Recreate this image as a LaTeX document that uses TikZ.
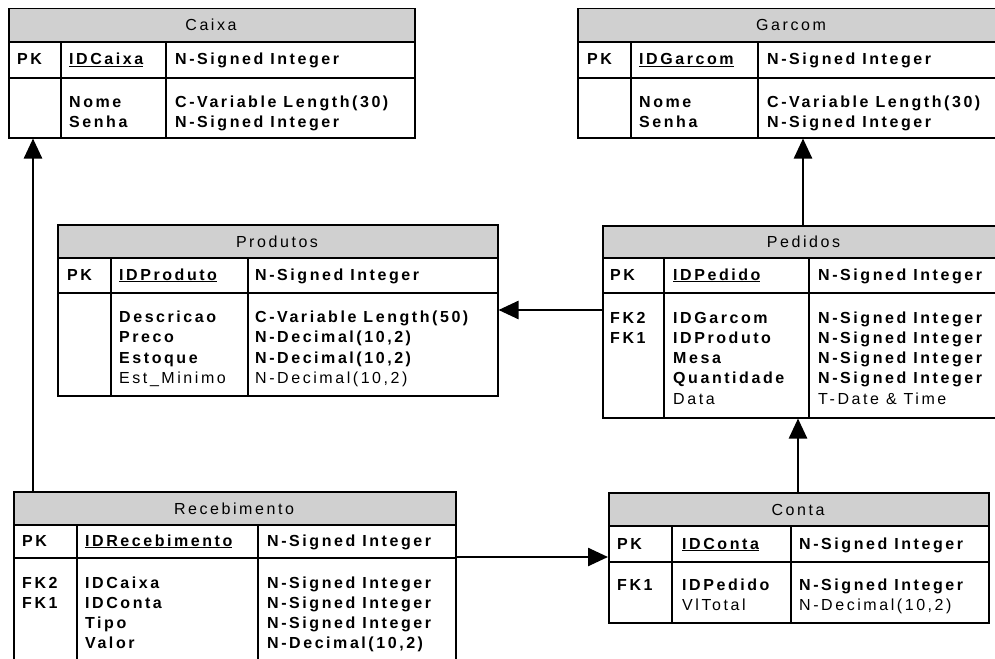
\documentclass[tikz,border=0pt]{standalone}
\usepackage{fontspec}
\setmainfont{Liberation Sans}[LetterSpace=16]
\usetikzlibrary{arrows.meta}
\definecolor{headgray}{RGB}{208,208,208}

\begin{document}
\begin{tikzpicture}[x=1pt,y=-1pt,
    tabbox/.style={draw,line width=1.5pt,inner sep=0pt,anchor=north west},
    tabline/.style={line width=1.5pt},
    tabtitle/.style={font=\fontsize{16}{19}\selectfont,inner sep=0pt,anchor=base},
    cell/.style={font=\fontsize{16}{19}\selectfont,inner sep=0pt,anchor=base west},
    fkarrow/.style={line width=2.5pt,-{Triangle[length=20pt,width=18pt]}}]
    \useasboundingbox (0,0) rectangle (995,658);

    % table frame: name, x0, y0, x1, y1, header bottom, pk bottom, col 1, col 2
    \def\tabela#1#2#3#4#5#6#7#8#9{
        \fill[headgray] (#2,#3) rectangle (#4,#6);
        \draw[tabline] (#2,#6) -- (#4,#6) (#2,#7) -- (#4,#7) (#8,#6) -- (#8,#5) (#9,#6) -- (#9,#5);
        \node[tabbox,minimum width={(#4-#2)*1pt},minimum height={(#5-#3)*1pt}] (#1) at (#2,#3) {};
        \node[tabtitle] (#1-title) at ({(#2+#4)/2},{(#3+#6)/2+6}) {#1};
    }

    % Caixa
    \tabela{Caixa}{8}{8}{414}{137}{42}{78}{61}{166}
    \node[cell] (Caixa-pk) at (17,65) {\bfseries PK};
    \node[cell] (Caixa-id) at (69,65) {\bfseries\underline{IDCaixa}};
    \node[cell] (Caixa-idt) at (175,65) {\bfseries N-Signed Integer};
    \foreach \n/\t/\f [count=\i from 0] in {Nome/C-Variable Length(30)/\bfseries, Senha/N-Signed Integer/\bfseries} {
        \node[cell] (Caixa-n\i) at (69,107+20.5*\i) {\f\n};
        \node[cell] (Caixa-t\i) at (175,107+20.5*\i) {\f\t};
    }

    % Garcom
    \tabela{Garcom}{577}{8}{1005}{137}{42}{78}{631}{758}
    \node[cell] (Garcom-pk) at (587,65) {\bfseries PK};
    \node[cell] (Garcom-id) at (639,65) {\bfseries\underline{IDGarcom}};
    \node[cell] (Garcom-idt) at (767,65) {\bfseries N-Signed Integer};
    \foreach \n/\t/\f [count=\i from 0] in {Nome/C-Variable Length(30)/\bfseries, Senha/N-Signed Integer/\bfseries} {
        \node[cell] (Garcom-n\i) at (639,107+20.5*\i) {\f\n};
        \node[cell] (Garcom-t\i) at (767,107+20.5*\i) {\f\t};
    }

    % Produtos
    \tabela{Produtos}{57}{224}{497}{395}{258}{293}{111}{248}
    \node[cell] (Produtos-pk) at (67,280) {\bfseries PK};
    \node[cell] (Produtos-id) at (119,280) {\bfseries\underline{IDProduto}};
    \node[cell] (Produtos-idt) at (255,280) {\bfseries N-Signed Integer};
    \foreach \n/\t/\f [count=\i from 0] in {Descricao/C-Variable Length(50)/\bfseries, Preco/{N-Decimal(10,2)}/\bfseries,
        Estoque/{N-Decimal(10,2)}/\bfseries, Est\_Minimo/{N-Decimal(10,2)}/\mdseries} {
        \node[cell] (Produtos-n\i) at (119,322+20.5*\i) {\f\n};
        \node[cell] (Produtos-t\i) at (255,322+20.5*\i) {\f\t};
    }

    % Pedidos
    \tabela{Pedidos}{602}{225}{1005}{417}{258}{293}{664}{809}
    \node[cell] (Pedidos-pk) at (610,280) {\bfseries PK};
    \node[cell] (Pedidos-id) at (673,280) {\bfseries\underline{IDPedido}};
    \node[cell] (Pedidos-idt) at (818,280) {\bfseries N-Signed Integer};
    \node[cell] (Pedidos-fk2) at (610,323) {\bfseries FK2};
    \node[cell] (Pedidos-fk1) at (610,343.3) {\bfseries FK1};
    \foreach \n/\t/\f [count=\i from 0] in {IDGarcom/N-Signed Integer/\bfseries, IDProduto/N-Signed Integer/\bfseries,
        Mesa/N-Signed Integer/\bfseries, Quantidade/N-Signed Integer/\bfseries, Data/T-Date \& Time/\mdseries} {
        \node[cell] (Pedidos-n\i) at (673,323+20.3*\i) {\f\n};
        \node[cell] (Pedidos-t\i) at (818,323+20.3*\i) {\f\t};
    }

    % Recebimento
    \tabela{Recebimento}{13}{491}{455}{670}{525}{558}{77}{258}
    \node[cell] (Recebimento-pk) at (22,546) {\bfseries PK};
    \node[cell] (Recebimento-id) at (85,546) {\bfseries\underline{IDRecebimento}};
    \node[cell] (Recebimento-idt) at (267,546) {\bfseries N-Signed Integer};
    \node[cell] (Recebimento-fk2) at (22,588) {\bfseries FK2};
    \node[cell] (Recebimento-fk1) at (22,608.3) {\bfseries FK1};
    \foreach \n/\t/\f [count=\i from 0] in {IDCaixa/N-Signed Integer/\bfseries, IDConta/N-Signed Integer/\bfseries,
        Tipo/N-Signed Integer/\bfseries, Valor/{N-Decimal(10,2)}/\bfseries} {
        \node[cell] (Recebimento-n\i) at (85,588+20.3*\i) {\f\n};
        \node[cell] (Recebimento-t\i) at (267,588+20.3*\i) {\f\t};
    }

    % Conta
    \tabela{Conta}{608}{492}{988}{622}{526}{562}{672}{791}
    \node[cell] (Conta-pk) at (617,549) {\bfseries PK};
    \node[cell] (Conta-id) at (682,549) {\bfseries\underline{IDConta}};
    \node[cell] (Conta-idt) at (799,549) {\bfseries N-Signed Integer};
    \node[cell] (Conta-fk1) at (617,590) {\bfseries FK1};
    \foreach \n/\t/\f [count=\i from 0] in {IDPedido/N-Signed Integer/\bfseries, VlTotal/{N-Decimal(10,2)}/\mdseries} {
        \node[cell] (Conta-n\i) at (682,590+20.3*\i) {\f\n};
        \node[cell] (Conta-t\i) at (799,590+20.3*\i) {\f\t};
    }

    % relationships
    \coordinate (rc) at ([xshift=20pt]Recebimento.north west);
    \coordinate (pg) at ([xshift=201pt]Pedidos.north west);
    \coordinate (cp) at ([xshift=190pt]Conta.north west);
    \coordinate (pp) at ([yshift=-85pt]Pedidos.north west);
    \coordinate (rk) at ([yshift=-65pt]Conta.north west);
    \draw[fkarrow] (rc) -- (rc |- Caixa.south);
    \draw[fkarrow] (pg) -- (pg |- Garcom.south);
    \draw[fkarrow] (cp) -- (cp |- Pedidos.south);
    \draw[fkarrow] (pp) -- (pp -| Produtos.east);
    \draw[fkarrow] (Recebimento.east |- rk) -- (rk);
\end{tikzpicture}
\end{document}
